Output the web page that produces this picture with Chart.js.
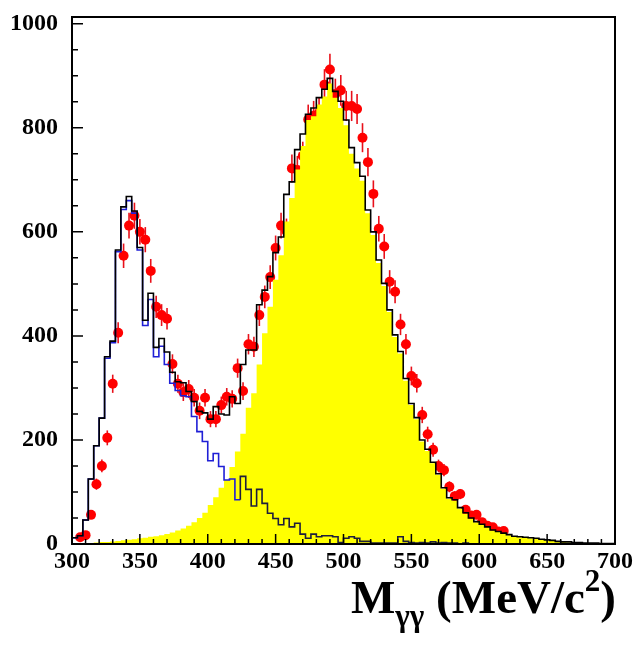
<!DOCTYPE html>
<html>
<head>
<meta charset="utf-8">
<script src="https://cdn.jsdelivr.net/npm/chart.js@4"></script>
<style>
  body { margin: 0; background: #fff; }
  canvas { display: block; }
</style>
</head>
<body>
<canvas id="mgg" width="640" height="649"></canvas>
<script>
// histogram binning: 100 bins of 4 MeV from 300 to 700
const xLow = 300;
const xHigh = 700;
const binWidth = 4;

// yellow filled MC component (right peak)
const yellowCounts = [
    0, 1, 1, 2, 2, 3, 4, 4, 5, 6, 7, 8, 9, 11, 12, 14, 15, 17, 19, 22, 26, 30, 35, 42, 50,
    60, 75, 90, 108, 123, 148, 178, 212, 262, 290, 345, 405, 456, 508, 555, 620, 665, 720, 765, 815, 822, 845, 860, 885, 858,
    838, 805, 750, 722, 698, 636, 594, 540, 496, 446, 398, 366, 314, 267, 240, 197, 179, 155, 133, 106, 87, 83, 68, 58, 49,
    42, 37, 32, 26, 23, 20, 17, 14, 13, 12, 11, 10, 8, 7, 6, 5, 4, 3, 3, 2, 2, 2, 1, 1, 1
];

// blue MC component (left peak)
const blueCounts = [
    0, 12, 16, 46, 125, 189, 242, 357, 387, 562, 643, 660, 636, 565, 420, 470, 360, 380, 345, 309, 295, 285, 283, 245, 216,
    197, 160, 174, 149, 123, 125, 85, 130, 105, 73, 105, 78, 59, 49, 37, 49, 33, 40, 19, 11, 19, 14, 16, 16, 14,
    3, 11, 14, 11, 5, 5, 2, 2, 2, 2, 2, 14, 5, 3, 2, 3, 2, 4, 2, 3, 2, 2, 0, 2, 0,
    0, 0, 0, 0, 0, 0, 0, 0, 0, 0, 0, 0, 0, 0, 0, 0, 0, 0, 0, 0, 0, 0, 0, 0, 0
];

// black: total MC
const totalCounts = [
    0, 12, 16, 46, 125, 189, 242, 360, 390, 565, 648, 668, 640, 570, 430, 482, 378, 395, 369, 330, 312, 310, 293, 274, 255,
    252, 240, 264, 250, 248, 283, 270, 345, 373, 373, 460, 488, 514, 560, 590, 672, 696, 758, 788, 826, 838, 858, 874, 895, 870,
    851, 815, 762, 733, 707, 642, 600, 546, 501, 450, 402, 370, 318, 270, 243, 200, 182, 157, 135, 108, 89, 85, 70, 60, 50,
    43, 38, 33, 27, 24, 21, 18, 15, 14, 13, 12, 11, 9, 8, 7, 5, 4, 4, 3, 3, 2, 2, 2, 1, 1
];

// red data points
const dataMass = [
    306, 310, 314, 318, 322, 326, 330, 334, 338, 342, 346, 350, 354, 358, 362, 366, 370, 374, 378, 382,
    386, 390, 394, 398, 402, 406, 410, 414, 418, 422, 426, 430, 434, 438, 442, 446, 450, 454, 458, 462,
    466, 470, 474, 478, 482, 486, 490, 494, 498, 502, 506, 510, 514, 518, 522, 526, 530, 534, 538, 542,
    546, 550, 554, 558, 562, 566, 570, 574, 578, 582, 586, 590, 594, 598, 602, 606, 610, 614, 618
];
const dataCounts = [
    13, 17, 56, 115, 150, 204, 308, 406, 554, 612, 631, 600, 585, 525, 456, 440, 433, 346, 308, 292,
    298, 281, 256, 281, 240, 240, 267, 283, 279, 338, 294, 384, 379, 440, 475, 513, 569, 612, 601, 722,
    719, 746, 816, 823, 829, 883, 912, 865, 872, 842, 842, 836, 781, 734, 673, 606, 572, 504, 485, 422,
    384, 323, 309, 248, 211, 181, 150, 142, 110, 92, 96, 66, 55, 56, 42, 35, 32, 24, 25
];
const dataErrors = [
    3.6, 4.1, 7.5, 10.7, 12.2, 14.3, 17.5, 20.1, 23.5, 24.7, 25.1, 24.5, 24.2, 22.9, 21.4, 21, 20.8, 18.6, 17.5, 17.1,
    17.3, 16.8, 16, 16.8, 15.5, 15.5, 16.3, 16.8, 16.7, 18.4, 17.1, 19.6, 19.5, 21, 21.8, 22.6, 23.9, 24.7, 24.5, 26.9,
    26.8, 27.3, 28.6, 28.7, 28.8, 29.7, 30.2, 29.4, 29.5, 29, 29, 28.9, 27.9, 27.1, 25.9, 24.6, 23.9, 22.4, 22, 20.5,
    19.6, 18, 17.6, 15.7, 14.5, 13.5, 12.2, 11.9, 10.5, 9.6, 9.8, 8.1, 7.4, 7.5, 6.5, 5.9, 5.7, 4.9, 5
];

// axis ticks
const yMax = 1013;
const yTickLabels = [0, 200, 400, 600, 800, 1000];
const xTickLabels = [300, 350, 400, 450, 500, 550, 600, 650, 700];

function histPoints(counts) {
    const pts = counts.map((c, i) => ({ x: xLow + i * binWidth, y: c }));
    pts.push({ x: xLow + counts.length * binWidth, y: counts[counts.length - 1] });
    return pts;
}

const serif = '"Liberation Serif", "Times New Roman", serif';

// error bars go under the markers (drawn just before the data set)
const errorBars = {
    id: 'errorBars',
    beforeDatasetDraw(chart, args) {
        if (args.index !== 0) return;
        const ctx = chart.ctx;
        const xs = chart.scales.x, ys = chart.scales.y;
        ctx.save();
        ctx.strokeStyle = '#e8101a';
        ctx.lineWidth = 1.6;
        dataMass.forEach((m, i) => {
            const px = xs.getPixelForValue(m);
            ctx.beginPath();
            ctx.moveTo(px, ys.getPixelForValue(dataCounts[i] - dataErrors[i]));
            ctx.lineTo(px, ys.getPixelForValue(dataCounts[i] + dataErrors[i]));
            ctx.stroke();
        });
        ctx.restore();
    }
};

// ROOT style frame with inward ticks, plus the axis title
const frameAndTitle = {
    id: 'frameAndTitle',
    afterDraw(chart) {
        const ctx = chart.ctx;
        const a = chart.chartArea;
        const xs = chart.scales.x, ys = chart.scales.y;
        ctx.save();
        ctx.strokeStyle = '#000';
        ctx.lineWidth = 2;
        ctx.strokeRect(a.left, a.top, a.right - a.left, a.bottom - a.top);

        ctx.lineWidth = 1.5;
        ctx.beginPath();
        for (let v = 0; v <= yMax; v += 50) {
            const py = ys.getPixelForValue(v);
            const len = yTickLabels.includes(v) ? 11 : 6;
            ctx.moveTo(a.left, py);
            ctx.lineTo(a.left + len, py);
        }
        for (let m = xLow; m <= xHigh; m += 10) {
            const px = xs.getPixelForValue(m);
            const len = xTickLabels.includes(m) ? 10 : 5;
            ctx.moveTo(px, a.bottom);
            ctx.lineTo(px, a.bottom - len);
        }
        ctx.stroke();

        // M_γγ (MeV/c^2)
        const big = 'bold 47px ' + serif;
        const small = 'bold 31px ' + serif;
        const parts = [
            ['M', big, 0],
            ['\u03B3\u03B3', small, 13],
            [' (MeV/c', big, 0],
            ['2', small, -22],
            [')', big, 0]
        ];
        let total = 0;
        parts.forEach(p => { ctx.font = p[1]; total += ctx.measureText(p[0]).width; });
        let x = 616 - total;
        const base = 613;
        ctx.fillStyle = '#000';
        ctx.textBaseline = 'alphabetic';
        parts.forEach(p => {
            ctx.font = p[1];
            ctx.fillText(p[0], x, base + p[2]);
            x += ctx.measureText(p[0]).width;
        });
        ctx.restore();
    }
};

new Chart(document.getElementById('mgg'), {
    type: 'line',
    data: {
        datasets: [
            {
                label: 'data',
                data: dataMass.map((m, i) => ({ x: m, y: dataCounts[i] })),
                showLine: false,
                pointRadius: 5,
                pointBackgroundColor: '#ff0000',
                pointBorderWidth: 0,
                order: 4
            },
            {
                label: 'yellow',
                data: histPoints(yellowCounts),
                stepped: 'after',
                borderWidth: 0,
                borderColor: 'rgba(0,0,0,0)',
                backgroundColor: '#ffff00',
                fill: 'origin',
                pointRadius: 0,
                order: 3
            },
            {
                label: 'blue',
                data: histPoints(blueCounts),
                stepped: 'after',
                borderWidth: 1.6,
                borderColor: '#1f1fd6',
                segment: {
                    borderColor: c => c.p0.parsed.x >= 424 ? '#1e1e3c' : '#1f1fd6'
                },
                fill: false,
                pointRadius: 0,
                order: 2
            },
            {
                label: 'total',
                data: histPoints(totalCounts),
                stepped: 'after',
                borderWidth: 1.6,
                borderColor: '#000000',
                fill: false,
                pointRadius: 0,
                order: 1
            }
        ]
    },
    options: {
        responsive: false,
        animation: false,
        layout: { padding: { top: 17, right: 25, left: 0, bottom: 0 } },
        plugins: { legend: { display: false }, tooltip: { enabled: false } },
        scales: {
            x: {
                type: 'linear',
                min: xLow,
                max: xHigh,
                grid: { display: false, drawTicks: false },
                border: { display: false },
                ticks: {
                    padding: 3,
                    color: '#000',
                    maxRotation: 0,
                    autoSkip: false,
                    callback: v => String(v),
                    font: { family: serif, size: 24, weight: 'bold' }
                },
                afterBuildTicks(s) { s.ticks = xTickLabels.map(v => ({ value: v })); },
                afterFit(s) { s.height = 105; s.paddingLeft = 0; s.paddingRight = 0; }
            },
            y: {
                min: 0,
                max: yMax,
                grid: { display: false, drawTicks: false },
                border: { display: false },
                ticks: {
                    padding: 14,
                    color: '#000',
                    autoSkip: false,
                    callback: v => String(v),
                    font: { family: serif, size: 24, weight: 'bold' }
                },
                afterBuildTicks(s) { s.ticks = yTickLabels.map(v => ({ value: v })); },
                afterFit(s) { s.width = 72; s.paddingTop = 0; s.paddingBottom = 0; }
            }
        }
    },
    plugins: [errorBars, frameAndTitle]
});
</script>
</body>
</html>
